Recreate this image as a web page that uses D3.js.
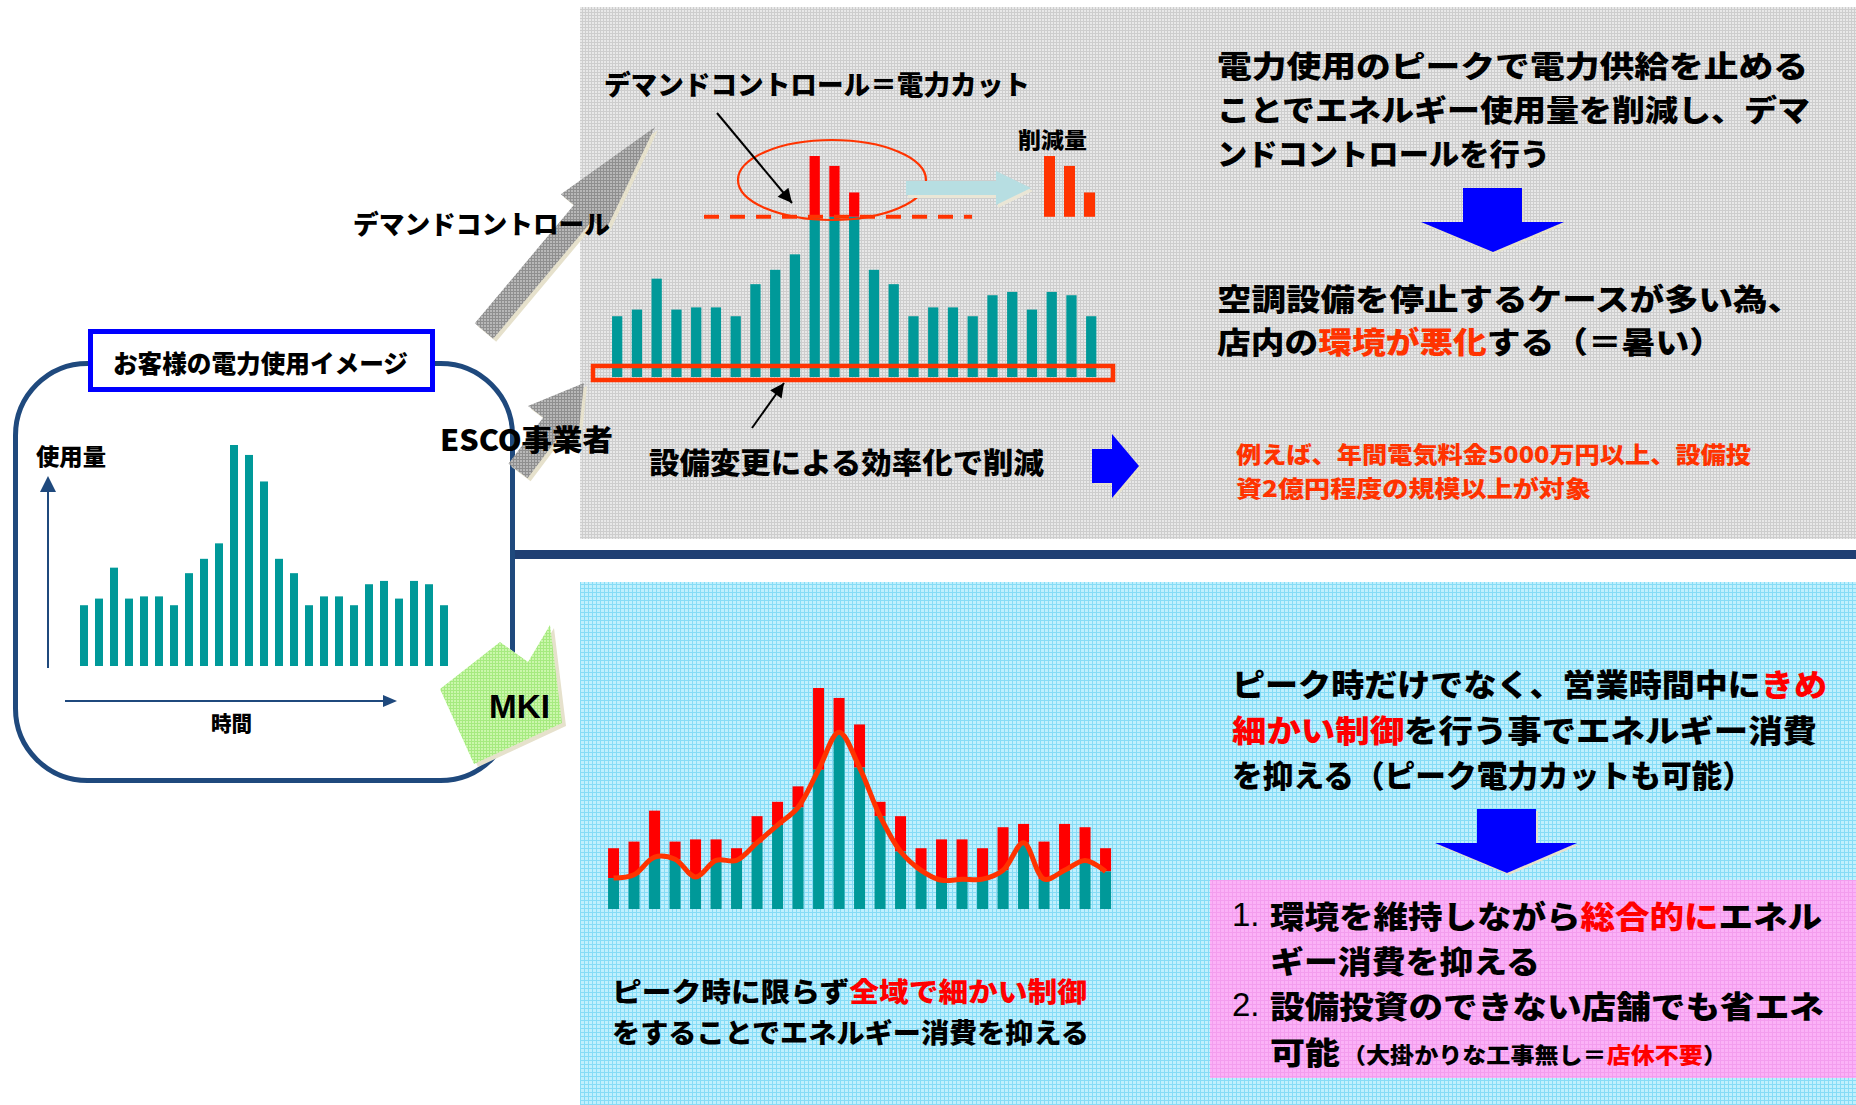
<!DOCTYPE html>
<html>
<head>
<meta charset="utf-8">
<script src="https://cdn.jsdelivr.net/npm/d3@7/dist/d3.min.js"></script>
<style>
  body { margin: 0; background: #fff; }
  svg { display: block; }
</style>
</head>
<body>
<script>
// usage per time slot (peak = 100), same profile in all three charts
const usage = [27.5, 30.5, 44.5, 30.5, 31.5, 31.5, 27.5, 42, 48.5, 55.5, 100, 95.5, 83.5,
  48.5, 42, 27.5, 31.5, 31.5, 27.5, 37, 38.5, 30.5, 38.5, 37, 27.5];
const slots = usage.map((_, i) => i);

// demand control: supply is cut above this level
const demandCap = 72.5;

// MKI fine control: usage after control in every slot
const controlled = [14, 15.5, 23.5, 22.5, 14.5, 22, 22, 30, 38, 46, 63, 80, 64,
  42, 26, 17.5, 13, 13.5, 13.5, 17.5, 30, 13.5, 17.5, 22, 17];

const JP = "'Noto Sans CJK JP', 'Noto Sans', sans-serif";
const TEAL = "#009999";
const RED = "#FF0000";
const ORANGE = "#FF3300";
const NAVY = "#1F497D";

const svg = d3.select("body").append("svg")
  .attr("width", 1856)
  .attr("height", 1105);

const defs = svg.append("defs");

// fine grid textures like the office fills
function texture(id, base, line, size) {
  const p = defs.append("pattern")
    .attr("id", id)
    .attr("patternUnits", "userSpaceOnUse")
    .attr("width", size)
    .attr("height", size);
  p.append("rect").attr("width", size).attr("height", size).attr("fill", base);
  p.append("rect").attr("width", size).attr("height", 1).attr("fill", line);
  p.append("rect").attr("width", 1).attr("height", size).attr("fill", line);
}
texture("texGray", "#E8E8E8", "#CDCDCD", 3);
texture("texCyan", "#C0F0FD", "#86DCF6", 4);
texture("texPink", "#FBB2F7", "#F39DEE", 4);
texture("texGreen", "#CBF7AC", "#A6EA80", 3);
texture("texArrow", "#B8B8B8", "#8F8F8F", 3);

defs.append("marker")
  .attr("id", "head")
  .attr("viewBox", "0 0 10 10")
  .attr("refX", 10)
  .attr("refY", 5)
  .attr("markerWidth", 10)
  .attr("markerHeight", 7)
  .attr("orient", "auto")
  .append("path")
  .attr("d", "M0,0 L10,5 L0,10 Z")
  .attr("fill", "#000");

// background panels
svg.append("rect").attr("x", 580).attr("y", 7).attr("width", 1276).attr("height", 532)
  .attr("fill", "url(#texGray)");
svg.append("rect").attr("x", 580).attr("y", 582).attr("width", 1276).attr("height", 523)
  .attr("fill", "url(#texCyan)");
svg.append("rect").attr("x", 513).attr("y", 550).attr("width", 1343).attr("height", 9)
  .attr("fill", "#1F3F73");
svg.append("rect").attr("x", 1210).attr("y", 880).attr("width", 646).attr("height", 198)
  .attr("fill", "url(#texPink)");

/**
 * Writes one line of text. parts = [[string, colour], ...]
 */
function addText(x, y, parts, size, length, opts = {}) {
  const t = svg.append("text")
    .attr("x", x)
    .attr("y", y)
    .attr("dominant-baseline", "central")
    .style("font-family", opts.family || JP)
    .style("font-weight", opts.weight || 900)
    .style("font-size", size + "px");
  if (length) t.attr("textLength", length).attr("lengthAdjust", "spacingAndGlyphs");
  parts.forEach(([s, c]) => t.append("tspan").attr("fill", c || "#000").text(s));
  return t;
}

// block arrow from base centre to tip
function arrowPoints(bx, by, tx, ty, sh, hh, hl) {
  const dx = tx - bx, dy = ty - by, len = Math.hypot(dx, dy);
  const ux = dx / len, uy = dy / len, nx = -uy, ny = ux;
  const hb = len - hl;
  const p = (a, n) => [bx + ux * a + nx * n, by + uy * a + ny * n];
  return [p(0, -sh), p(hb, -sh), p(hb, -hh), p(len, 0), p(hb, hh), p(hb, sh), p(0, sh)];
}

function drawPoly(pts, fill, shadow, dx = 3, dy = 3) {
  if (shadow) {
    svg.append("polygon")
      .attr("points", pts.map((p) => [p[0] + dx, p[1] + dy].join(",")).join(" "))
      .attr("fill", shadow);
  }
  svg.append("polygon")
    .attr("points", pts.map((p) => p.join(",")).join(" "))
    .attr("fill", fill);
}

// ---------- left box: customer usage image ----------
svg.append("rect")
  .attr("x", 15.5).attr("y", 363.5)
  .attr("width", 497).attr("height", 417)
  .attr("rx", 72)
  .attr("fill", "none")
  .attr("stroke", NAVY)
  .attr("stroke-width", 5);

svg.append("rect")
  .attr("x", 90.5).attr("y", 331.5)
  .attr("width", 342).attr("height", 58)
  .attr("fill", "#fff")
  .attr("stroke", "#0000FF")
  .attr("stroke-width", 5);
addText(113, 362, [["お客様の電力使用イメージ"]], 25, 295);

const xLeft = d3.scaleBand().domain(slots).range([76.5, 451.5])
  .paddingInner(0.467).paddingOuter(0.233);
const yLeft = d3.scaleLinear().domain([0, 100]).range([666, 445]);

svg.append("g")
  .selectAll("rect")
  .data(usage)
  .enter()
  .append("rect")
  .attr("x", (d, i) => xLeft(i))
  .attr("y", (d) => yLeft(d))
  .attr("width", xLeft.bandwidth())
  .attr("height", (d) => yLeft(0) - yLeft(d))
  .attr("fill", TEAL);

// axes arrows
svg.append("line").attr("x1", 48).attr("y1", 668).attr("x2", 48).attr("y2", 490)
  .attr("stroke", NAVY).attr("stroke-width", 2);
svg.append("polygon").attr("points", "40,492 56,492 48,476").attr("fill", NAVY);
svg.append("line").attr("x1", 65).attr("y1", 701).attr("x2", 385).attr("y2", 701)
  .attr("stroke", NAVY).attr("stroke-width", 2);
svg.append("polygon").attr("points", "383,695 383,707 397,701").attr("fill", NAVY);
addText(36, 455, [["使用量"]], 23, 70);
addText(211, 722, [["時間"]], 21, 41);

// ---------- arrows from the box ----------
drawPoly(arrowPoints(484, 331, 655, 127, 12, 29, 112), "url(#texArrow)", "#E6E1CC");
drawPoly(arrowPoints(518, 471, 584, 383, 12, 31, 52), "url(#texArrow)", "#E6E1CC");
drawPoly([[500, 642], [528, 662], [550, 625], [562, 723], [474, 764], [440, 689]],
  "url(#texGreen)", "#E6E1CC", 4, 3);

addText(353, 222, [["デマンドコントロール"]], 26, 257);
addText(440, 438, [["ESCO事業者"]], 29, 173);
addText(489, 706, [["MKI"]], 33, 61, { family: "'Liberation Sans', Arial, sans-serif", weight: 700 });

// ---------- top chart: demand control ----------
const xTop = d3.scaleBand().domain(slots).range([607.3, 1101.1])
  .paddingInner(0.48).paddingOuter(0.24);
const yTop = d3.scaleLinear().domain([0, 100]).range([377, 156]);

const topG = svg.append("g");
topG.selectAll(".base")
  .data(usage)
  .enter()
  .append("rect")
  .attr("x", (d, i) => xTop(i))
  .attr("y", (d) => yTop(Math.min(d, demandCap)))
  .attr("width", xTop.bandwidth())
  .attr("height", (d) => yTop(0) - yTop(Math.min(d, demandCap)))
  .attr("fill", TEAL);

const peaks = slots.filter((i) => usage[i] > demandCap);
topG.selectAll(".peak")
  .data(peaks)
  .enter()
  .append("rect")
  .attr("x", (i) => xTop(i))
  .attr("y", (i) => yTop(usage[i]))
  .attr("width", xTop.bandwidth())
  .attr("height", (i) => yTop(demandCap) - yTop(usage[i]))
  .attr("fill", RED);

// cap line
svg.append("line")
  .attr("x1", 704).attr("x2", 972)
  .attr("y1", yTop(demandCap)).attr("y2", yTop(demandCap))
  .attr("stroke", ORANGE)
  .attr("stroke-width", 4)
  .attr("stroke-dasharray", "15 11");

svg.append("ellipse")
  .attr("cx", 832).attr("cy", 180)
  .attr("rx", 94).attr("ry", 40)
  .attr("fill", "none")
  .attr("stroke", ORANGE)
  .attr("stroke-width", 2.2);

// light blue arrow to the cut amount
drawPoly([[906, 181], [996, 181], [996, 171], [1031, 188], [996, 205], [996, 195], [906, 195]],
  "#B7DEE2", "#EAE6D6", 2, 3);

// cut amount bars
const xCut = d3.scaleBand().domain(d3.range(peaks.length)).range([1039.5, 1099.5])
  .paddingInner(0.45).paddingOuter(0.225);
svg.append("g")
  .selectAll("rect")
  .data(peaks)
  .enter()
  .append("rect")
  .attr("x", (d, j) => xCut(j))
  .attr("y", (i) => yTop(usage[i]))
  .attr("width", xCut.bandwidth())
  .attr("height", (i) => yTop(demandCap) - yTop(usage[i]))
  .attr("fill", ORANGE);

// base load rectangle
svg.append("rect")
  .attr("x", 593).attr("y", 366)
  .attr("width", 520).attr("height", 14)
  .attr("fill", "none")
  .attr("stroke", ORANGE)
  .attr("stroke-width", 4.5);

svg.append("line").attr("x1", 717).attr("y1", 113).attr("x2", 792).attr("y2", 203)
  .attr("stroke", "#000").attr("stroke-width", 2).attr("marker-end", "url(#head)");
svg.append("line").attr("x1", 752).attr("y1", 428).attr("x2", 784).attr("y2", 383)
  .attr("stroke", "#000").attr("stroke-width", 2).attr("marker-end", "url(#head)");

addText(604, 83, [["デマンドコントロール＝電力カット"]], 27, 426);
addText(1018, 138, [["削減量"]], 22, 69);
addText(649, 461, [["設備変更による効率化で削減"]], 29, 395);

// blue arrows
drawPoly([[1092, 449], [1112, 449], [1112, 434], [1139, 466], [1112, 498], [1112, 483], [1092, 483]],
  "#0000FF", "#E6E1CC", 2, 2);
drawPoly([[1463, 188], [1522, 188], [1522, 222], [1564, 222], [1493, 252], [1421, 222], [1463, 222]],
  "#0000FF", "#E6E1CC", 2, 2);
drawPoly([[1477, 809], [1536, 809], [1536, 843], [1577, 843], [1507, 873], [1435, 843], [1477, 843]],
  "#0000FF", "#E6E1CC", 2, 2);

// ---------- top right text ----------
addText(1217, 64, [["電力使用のピークで電力供給を止める"]], 30, 591);
addText(1217, 108, [["ことでエネルギー使用量を削減し、デマ"]], 30, 593);
addText(1217, 152, [["ンドコントロールを行う"]], 30, 333);
addText(1217, 296.5, [["空調設備を停止するケースが多い為、"]], 30, 585);
addText(1217, 340, [["店内の"], ["環境が悪化", ORANGE], ["する（＝暑い）"]], 30, 506);
addText(1236, 453, [["例えば、年間電気料金5000万円以上、設備投", ORANGE]], 23, 515);
addText(1236, 487, [["資2億円程度の規模以上が対象", ORANGE]], 23, 355);

// ---------- bottom chart: MKI fine control ----------
const xBot = d3.scaleBand().domain(slots).range([603.3, 1115.8])
  .paddingInner(0.463).paddingOuter(0.2315);
const yBot = d3.scaleLinear().domain([0, 100]).range([909, 688]);

const botG = svg.append("g");
botG.selectAll(".saved")
  .data(slots)
  .enter()
  .append("rect")
  .attr("x", (i) => xBot(i))
  .attr("y", (i) => yBot(usage[i]))
  .attr("width", xBot.bandwidth())
  .attr("height", (i) => yBot(controlled[i]) - yBot(usage[i]))
  .attr("fill", RED);
botG.selectAll(".kept")
  .data(controlled)
  .enter()
  .append("rect")
  .attr("x", (d, i) => xBot(i))
  .attr("y", (d) => yBot(d))
  .attr("width", xBot.bandwidth())
  .attr("height", (d) => yBot(0) - yBot(d))
  .attr("fill", TEAL);

const ctrlLine = d3.line()
  .x((d, i) => xBot(i) + xBot.bandwidth() / 2)
  .y((d) => yBot(d))
  .curve(d3.curveCatmullRom.alpha(0.5));
svg.append("path")
  .attr("d", ctrlLine(controlled))
  .attr("fill", "none")
  .attr("stroke", ORANGE)
  .attr("stroke-width", 5)
  .attr("stroke-linejoin", "round");

addText(612, 990, [["ピーク時に限らず"], ["全域で細かい制御", RED]], 27.5, 475);
addText(612, 1031, [["をすることでエネルギー消費を抑える"]], 27.5, 477);

// ---------- bottom right text ----------
addText(1232, 682, [["ピーク時だけでなく、営業時間中に"], ["きめ", RED]], 31, 595);
addText(1232, 727.5, [["細かい制御", RED], ["を行う事でエネルギー消費"]], 31, 585);
addText(1232, 773, [["を抑える（ピーク電力カットも可能）"]], 31, 521);

const NUM = { family: "'Liberation Sans', Arial, sans-serif", weight: 400 };
addText(1232, 914, [["1."]], 33, null, NUM);
addText(1270, 914, [["環境を維持しながら"], ["総合的に", RED], ["エネル"]], 31, 552);
addText(1270, 959, [["ギー消費を抑える"]], 31, 270);
addText(1232, 1004, [["2."]], 33, null, NUM);
addText(1270, 1004, [["設備投資のできない店舗でも省エネ"]], 31, 554);
addText(1270, 1050, [["可能"]], 31, 70);
addText(1342, 1053, [["（大掛かりな工事無し＝"], ["店休不要", RED], ["）"]], 22, 385);
</script>
</body>
</html>
